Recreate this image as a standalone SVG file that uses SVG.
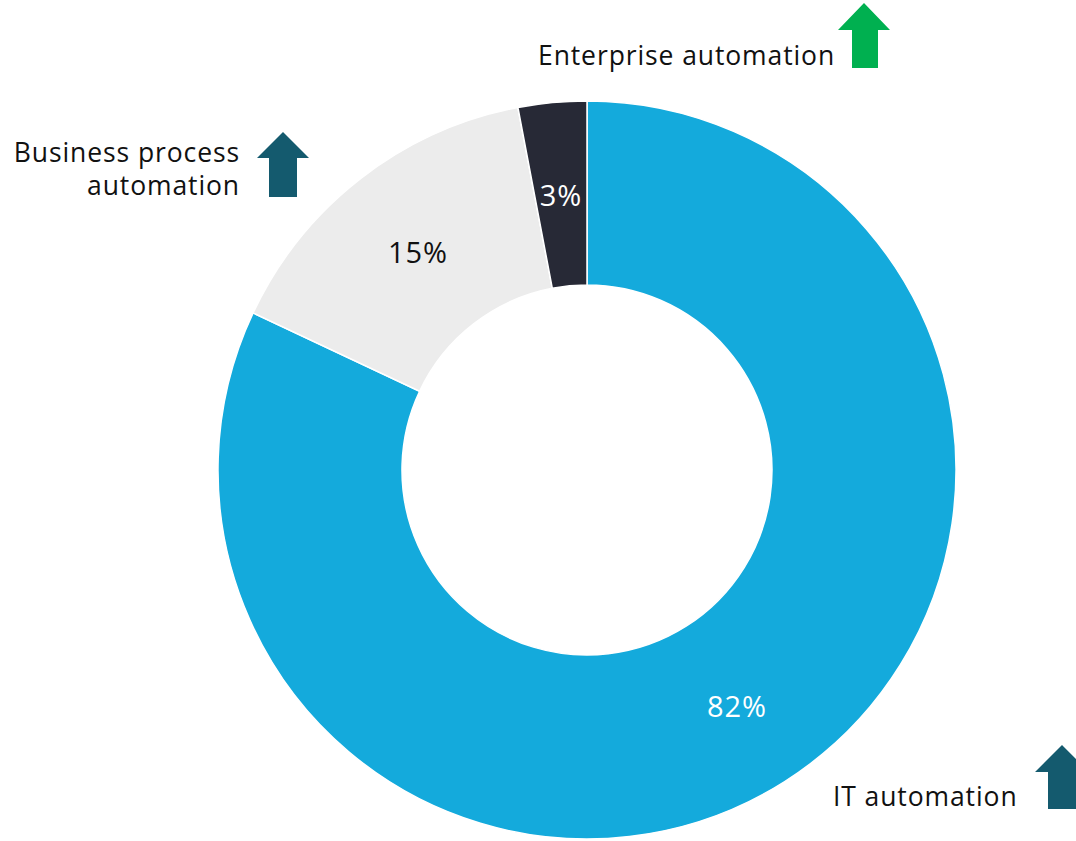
<svg xmlns="http://www.w3.org/2000/svg" width="1076" height="841" viewBox="0 0 1076 841">
<style>
.seg{stroke:#ffffff;stroke-width:1.5}
.lbl{font-family:"Open Sans","Noto Sans","Liberation Sans",sans-serif;font-size:26.5px;letter-spacing:0.9px;fill:#111111}
.pct{font-family:"Open Sans","Noto Sans","Liberation Sans",sans-serif;font-size:29px;letter-spacing:1px}
</style>
<rect width="1076" height="841" fill="#ffffff"/>
<g id="donut">
<g id="seg-it"><path class="seg" fill="#14AADC" d="M587,101 A369,369 0 1 1 253.1,312.9 L419.6,391.2 A185,185 0 1 0 587,285 Z"/></g>
<g id="seg-bpa"><path class="seg" fill="#ECECEC" d="M253.1,312.9 A369,369 0 0 1 517.9,107.5 L552.3,288.3 A185,185 0 0 0 419.6,391.2 Z"/></g>
<g id="seg-ent"><path class="seg" fill="#272936" d="M517.9,107.5 A369,369 0 0 1 587,101 L587,285 A185,185 0 0 0 552.3,288.3 Z"/></g>
<text class="pct" x="737" y="717" text-anchor="middle" fill="#ffffff">82%</text>
<text class="pct" x="418" y="263" text-anchor="middle" fill="#111111">15%</text>
<text class="pct" x="561" y="206" text-anchor="middle" fill="#ffffff">3%</text>
</g>
<g id="label-ent">
<text class="lbl" x="538" y="65">Enterprise automation</text>
<polygon fill="#00B050" points="864,3 890,30 878,30 878,68 852,68 852,30 838,30"/>
</g>
<g id="label-bpa">
<text class="lbl" x="240" y="162" text-anchor="end">Business process</text>
<text class="lbl" x="240" y="195" text-anchor="end">automation</text>
<polygon fill="#145A6E" points="283,132 309,158 297,158 297,197 269,197 269,158 257,158"/>
</g>
<g id="label-it">
<text class="lbl" x="833" y="806">IT automation</text>
<polygon fill="#145A6E" points="1062,745 1089,772 1076,772 1076,809 1048,809 1048,772 1035,772"/>
</g>
<g id="connectors"/>
</svg>
